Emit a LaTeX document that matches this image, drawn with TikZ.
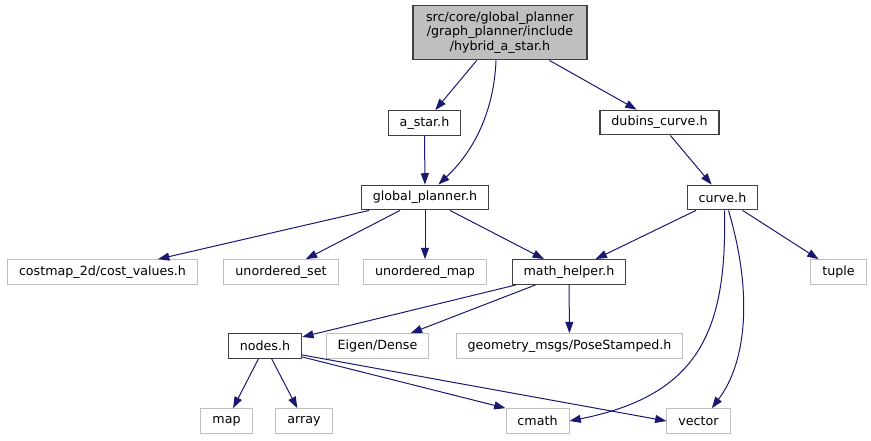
\documentclass[tikz,border=0pt]{standalone}
\usepackage{fontspec}
\setmainfont{DejaVu Sans}
\usepackage{tikz}
\usetikzlibrary{arrows.meta}
\usepackage{xcolor}
\definecolor{inclblue}{RGB}{25, 25, 112}
\definecolor{sysgray}{RGB}{191, 191, 191}
\definecolor{rootgray}{RGB}{191, 191, 191}

\begin{document}
\begin{tikzpicture}[x=0.75pt, y=-0.75pt,
    hdr/.style={draw=black!75, line width=0.9pt, fill=white, minimum height=18.5pt,
                inner xsep=8.6pt, inner ysep=0pt, font=\fontsize{9.5}{11}\selectfont},
    syshdr/.style={hdr, draw=sysgray, line width=0.75pt},
    incl/.style={draw=inclblue, line width=0.75pt, -{Triangle[length=8.5pt, width=6pt]}}]
  \useasboundingbox (0,0) rectangle (871,440);
  % project headers
  \node[hdr, fill=rootgray, minimum width=130.5pt, minimum height=41pt, align=center] (root) at (500,32.5)
       {src/core/global\_planner\\/graph\_planner/include\\/hybrid\_a\_star.h};
  \node[hdr] (astar)    at (424.5,123)  {a\_star.h};
  \node[hdr] (dubins)   at (659.5,122.5) {dubins\_curve.h};
  \node[hdr] (gplanner) at (425,197.5)  {global\_planner.h};
  \node[hdr] (curve)    at (722.5,197.5) {curve.h};
  \node[hdr] (mhelper)  at (569,272)    {math\_helper.h};
  \node[hdr] (nodes)    at (265,346)    {nodes.h};
  % system headers
  \node[syshdr] (costmap) at (102.5,272) {costmap\_2d/cost\_values.h};
  \node[syshdr] (uset)    at (281,272)   {unordered\_set};
  \node[syshdr] (umap)    at (425,272)   {unordered\_map};
  \node[syshdr] (tuple)   at (838.5,272) {tuple};
  \node[syshdr] (eigen)   at (377.5,346) {Eigen/Dense};
  \node[syshdr] (geom)    at (569.5,346) {geometry\_msgs/PoseStamped.h};
  \node[syshdr] (map)     at (226.5,421) {map};
  \node[syshdr] (array)   at (304,421)   {array};
  \node[syshdr] (cmath)   at (537.5,421) {cmath};
  \node[syshdr] (vector)  at (698.5,421) {vector};
  % hybrid_a_star.h
  \draw[incl] (root) -- (astar);
  \draw[incl] ([xshift=-3pt]root.south) .. controls (494,110) and (475,150) .. ([xshift=10pt]gplanner.north);
  \draw[incl] (root) -- (dubins);
  % a_star.h, dubins_curve.h
  \draw[incl] (astar) -- (gplanner);
  \draw[incl] (dubins) -- (curve);
  % global_planner.h
  \draw[incl] (gplanner) -- (costmap);
  \draw[incl] (gplanner) -- (uset);
  \draw[incl] (gplanner) -- (umap);
  \draw[incl] (gplanner) -- (mhelper);
  % curve.h
  \draw[incl] (curve) -- (mhelper);
  \draw[incl] ([xshift=1.5pt]curve.south) .. controls (727,330) and (700,395) .. (cmath.east);
  \draw[incl] ([xshift=4.5pt]curve.south) .. controls (752,290) and (748,360) .. ([xshift=10pt]vector.north);
  \draw[incl] (curve) -- (tuple);
  % math_helper.h
  \draw[incl] (mhelper) -- (nodes);
  \draw[incl] (mhelper) -- (eigen);
  \draw[incl] (mhelper) -- (geom);
  % nodes.h
  \draw[incl] (nodes) -- (map);
  \draw[incl] (nodes) -- (array);
  \draw[incl] ([yshift=1.5pt]nodes.south east) -- (cmath.north west);
  \draw[incl] ([yshift=3pt]nodes.south east) -- (vector.west);
\end{tikzpicture}
\end{document}
